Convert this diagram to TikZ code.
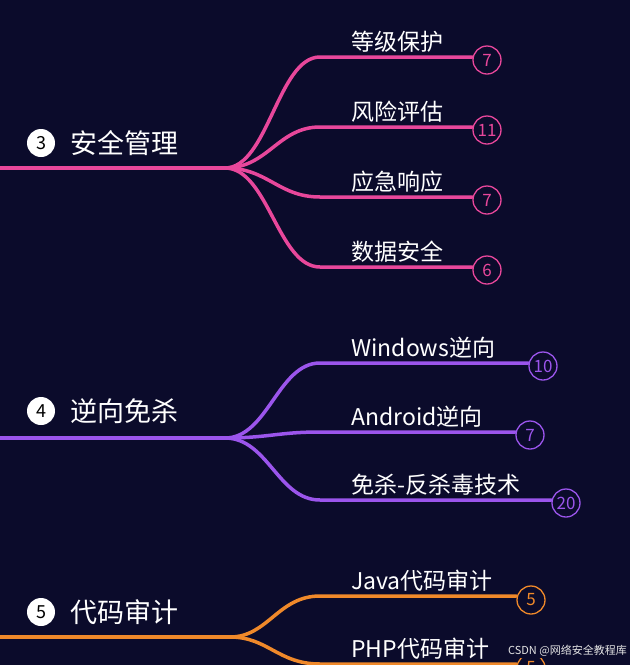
\documentclass[tikz,border=0pt]{standalone}
\usepackage{fontspec}
\setmainfont{Noto Sans CJK SC}
\begin{document}
\begin{tikzpicture}[x=1pt,y=-1pt,
  cnt/.style={circle,draw=#1,line width=1.3pt,minimum size=28pt,inner sep=0pt,text=#1,font=\fontsize{17}{17}\selectfont},
  hnum/.style={circle,fill=white,minimum size=28pt,inner sep=0pt,text=black,font=\fontsize{18}{18}\selectfont},
  head/.style={anchor=west,text=white,font=\fontsize{27}{27}\selectfont},
  lab/.style={anchor=south west,text=white,inner sep=1pt,font=\fontsize{23}{23}\selectfont},
  br/.style={draw=#1,line width=3.5pt,line cap=round}]
\definecolor{bg}{HTML}{0B0B2B}
\definecolor{pk}{HTML}{E8479B}
\definecolor{pu}{HTML}{9B55EC}
\definecolor{og}{HTML}{F0892A}
\fill[bg] (0,0) rectangle (630,665);
\useasboundingbox (0,0) rectangle (630,665);
% section 3
\coordinate (r3) at (-5,168); \coordinate (b3) at (225,168);
\node[hnum] (h3) at (41,143) {3};
\node[head] (t3) at (67,143) {安全管理};
\draw[br=pk] (r3) -- (b3);
\foreach \y/\n/\t/\id in {57/7/等级保护/a,127/11/风险评估/b,197/7/应急响应/c,267/6/数据安全/d}{
  \node[cnt=pk] (c\id) at (487,\y+3) {\n};
  \coordinate (e\id) at (320,\y);
  \node[lab] (l\id) at (350,\y-3) {\t};
  \draw[br=pk] (b3) .. controls (268,168) and (278,\y) .. (e\id) -- (c\id.west|-e\id);
}
% section 4
\coordinate (r4) at (-5,438); \coordinate (b4) at (225,438);
\node[hnum] (h4) at (41,411) {4};
\node[head] (t4) at (67,411) {逆向免杀};
\draw[br=pu] (r4) -- (b4);
\foreach \y/\x/\n/\t/\id in {363/543/10/Windows逆向/e,432/530/7/Android逆向/f,500/566/20/免杀-反杀毒技术/g}{
  \node[cnt=pu] (c\id) at (\x,\y+3) {\n};
  \coordinate (e\id) at (320,\y);
  \node[lab] (l\id) at (350,\y-3) {\t};
  \draw[br=pu] (b4) .. controls (268,438) and (278,\y) .. (e\id) -- (c\id.west|-e\id);
}
% section 5
\coordinate (r5) at (-5,637); \coordinate (b5) at (230,637);
\node[hnum] (h5) at (41,612) {5};
\node[head] (t5) at (67,612) {代码审计};
\draw[br=og] (r5) -- (b5);
\foreach \y/\n/\t/\id in {596/5/Java代码审计/h,664/5/PHP代码审计/i}{
  \node[cnt=og] (c\id) at (531,\y+4) {\n};
  \coordinate (e\id) at (320,\y);
  \node[lab] (l\id) at (350,\y-3) {\t};
  \draw[br=og] (b5) .. controls (268,637) and (278,\y) .. (e\id) -- (c\id.west|-e\id);
}
\node[anchor=east,text=white!80!gray,font=\fontsize{11}{11}\selectfont,fill=bg,inner sep=1pt] (wm) at (628,651) {CSDN @网络安全教程库};
\end{tikzpicture}
\end{document}
